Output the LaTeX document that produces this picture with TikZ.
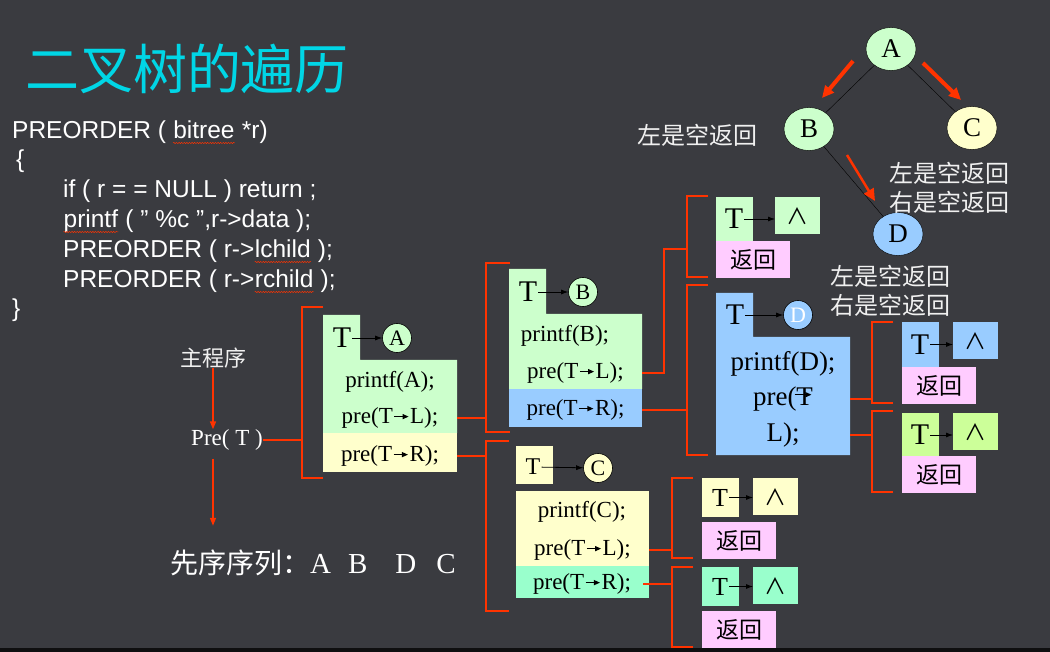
\documentclass[tikz,border=0pt]{standalone}
\usepackage{fontspec}
\usetikzlibrary{shapes.geometric,arrows.meta,decorations.pathmorphing}
\setmainfont{Liberation Serif}
\setsansfont{Liberation Sans}
\newfontfamily\cjk{Noto Sans CJK SC}
\definecolor{bgdark}{RGB}{58,59,64}
\definecolor{titlecyan}{RGB}{0,214,230}
\definecolor{pptred}{RGB}{255,51,0}
\definecolor{boxgreen}{RGB}{204,255,204}
\definecolor{boxyellow}{RGB}{255,255,204}
\definecolor{boxblue}{RGB}{153,204,255}
\definecolor{boxpink}{RGB}{255,204,255}
\definecolor{boxteal}{RGB}{153,255,204}
\definecolor{boxlime}{RGB}{204,255,153}
% red wavy underline of the spell checker
\newcommand{\spell}[1]{\tikz[baseline=(sw.base)]{\node[inner sep=0pt, text=white] (sw) {#1};
  \draw[pptred, line width=0.5pt, decorate, decoration={snake, amplitude=0.6pt, segment length=2.6pt}]
    ([yshift=-4pt]sw.base west) -- ([yshift=-4pt]sw.base east);}}
% short arrow inside pre(T->L)
\newcommand{\ra}{\kern1pt\tikz[baseline=-0.3em]\draw[line width=1.1pt, -{Triangle[length=6pt,width=5pt]}] (0pt,0pt) -- (0.62em,0pt);\kern1pt}

\begin{document}
\begin{tikzpicture}[x=1pt,y=-1pt,
  codetext/.style={anchor=base west, text=white, font=\sffamily\fontsize{24.5}{28}\selectfont, inner sep=0pt},
  note/.style={text=white!94!black, font=\cjk\fontsize{24}{29}\selectfont, inner sep=0pt},
  tnode/.style={ellipse, draw=black, minimum width=50pt, minimum height=43pt, inner sep=0pt, font=\fontsize{27}{27}\selectfont},
  visit/.style={pptred, line width=4pt, -{Triangle[length=12pt,width=11pt]}},
  callarrow/.style={pptred, line width=1.5pt, -{Triangle[length=8pt,width=6pt]}},
  redline/.style={pptred, line width=1.8pt},
  rowtext/.style={font=\fontsize{23}{23}\selectfont, inner sep=0pt},
  row/.style={rowtext, minimum width=#1},
  bigT/.style={font=\fontsize{30}{30}\selectfont, inner sep=1pt},
  ptr/.style={-{Latex[length=7pt,width=5pt]}, line width=0.8pt},
  ptrcircle/.style={circle, draw=black, line width=0.6pt, minimum size=29pt, inner sep=0pt, font=\fontsize{22}{22}\selectfont},
  nullbox/.style={minimum width=45pt, minimum height=37pt, inner sep=0pt, font=\cjk\fontsize{22}{22}\selectfont},
  retbox/.style={fill=boxpink, minimum width=74pt, minimum height=37pt, inner sep=0pt, font=\cjk\fontsize{23}{23}\selectfont}]

\useasboundingbox (0,0) rectangle (1050,652);
\fill[bgdark] (0,0) rectangle (1050,652);
\fill[black!75!bgdark] (0,648) rectangle (1050,652);

% title and code
\node[font=\cjk\fontsize{54}{54}\selectfont, text=titlecyan, inner sep=0pt] (title) at (187,69) {二叉树的遍历};
\node[codetext] (code1) at (12,139) {PREORDER ( \spell{bitree} *r)};
\node[codetext] (code2) at (16,168) {\{};
\node[codetext] (code3) at (63,198) {if ( r = = NULL ) return ;};
\node[codetext] (code4) at (63,228) {\spell{printf} ( " \%c ",r->data );};
\node[codetext] (code5) at (63,258) {PREORDER ( r->\spell{lchild} );};
\node[codetext] (code6) at (63,288) {PREORDER ( r->\spell{rchild} );};
\node[codetext] (code7) at (12,317) {\}};

% the tree
\node[tnode, fill=boxgreen] (tA) at (891,49) {A};
\node[tnode, fill=boxgreen] (tB) at (809,129) {B};
\node[tnode, fill=boxyellow] (tC) at (972,128) {C};
\node[tnode, fill=boxblue] (tD) at (898,234) {D};
\draw (tA) -- (tB);
\draw (tA) -- (tC);
\draw (tB) -- (tD);
\coordinate (vAB1) at (853,61);  \coordinate (vAB2) at (822,98);
\coordinate (vAC1) at (923,63);  \coordinate (vAC2) at (961,100);
\coordinate (vBD1) at (847,155); \coordinate (vBD2) at (875,201);
\draw[visit] (vAB1) -- (vAB2);
\draw[visit] (vAC1) -- (vAC2);
\draw[visit, line width=2.5pt] (vBD1) -- (vBD2);
\node[note] (noteB) at (697,135) {左是空返回};
\node[note, align=left] (noteC) at (949,188) {左是空返回\\右是空返回};
\node[note, align=left] (noteD) at (890,291) {左是空返回\\右是空返回};

% main program
\node[note, font=\cjk\fontsize{22}{22}\selectfont] (mainprog) at (213,358) {主程序};
\node[rowtext, text=white] (preT) at (227,440) {Pre( T )};
\node[anchor=west, text=white, inner sep=0pt, font=\fontsize{29}{29}\selectfont] (seq) at (170,563)
  {{\cjk\fontsize{28}{28}\selectfont 先序序列：}A\hspace{17pt}B\hspace{28pt}D\hspace{20pt}C};
\draw[callarrow] (mainprog) -- (mainprog |- preT.north);
\draw[callarrow, shorten <=8pt, shorten >=24pt] (mainprog |- preT.south) -- (mainprog |- seq.north);

% frames of the calls
\fill[boxgreen] (323,315) -- (360,315) -- (360,360) -- (457,360) -- (457,433) -- (323,433) -- cycle;
\fill[boxyellow] (323,433) rectangle (457,472);
\fill[boxgreen] (509,269) -- (546,269) -- (546,314) -- (642,314) -- (642,389) -- (509,389) -- cycle;
\fill[boxblue] (509,389) rectangle (642,427);
\fill[boxblue] (716,293) -- (753,293) -- (753,337) -- (850,337) -- (850,455) -- (716,455) -- cycle;
\fill[boxyellow] (516,446) rectangle (553,484);
\fill[boxyellow] (516,491) rectangle (649,566);
\fill[boxteal] (516,566) rectangle (649,598);

% brackets
\foreach \nm/\sx/\ty/\by/\tx in {A/302/307/478/323, B/486/263/432/510, C/486/441/611/509,
    BL/687/196/277/708, BR/687/285/455/708, CL/672/478/558/693, CR/672/567/647/693,
    DL/872/322/403/893, DR/872/411/492/893}
  \draw[redline] (\tx,\ty) -- (\sx,\ty) coordinate (sp\nm) -- (\sx,\by) -- (\tx,\by);

% call A
\node[bigT] (aT) at (342,338) {T};
\node[ptrcircle, fill=boxgreen] (aPtr) at (397,338) {A};
\draw[ptr] (aT) -- (aPtr);
\node[rowtext] (aP) at (390,382) {printf(A);};
\node[row=134] (aL) at (390,418) {pre(T\ra L);};
\node[row=134] (aR) at (390,456) {pre(T\ra R);};

% call B
\node[bigT] (bT) at (528,292) {T};
\node[ptrcircle, fill=boxgreen] (bPtr) at (583,292) {B};
\draw[ptr] (bT) -- (bPtr);
\node[rowtext] (bP) at (565,336) {printf(B);};
\node[row=133] (bL) at (575.5,373) {pre(T\ra L);};
\node[row=133] (bR) at (575.5,410) {pre(T\ra R);};

% call D
\node[bigT] (dT) at (735,315) {T};
\node[ptrcircle, fill=boxblue, text=white] (dPtr) at (798,315) {D};
\draw[ptr] (dT) -- (dPtr);
\node[rowtext, font=\fontsize{27}{27}\selectfont] (dP) at (783,364) {printf(D);};
\node[row=134, font=\fontsize{27}{27}\selectfont] (dL) at (783,399)
  {pre(T\llap{\raisebox{0.1em}{\ra}}};
\node[row=134, font=\fontsize{27}{27}\selectfont] (dR) at (783,435) {L);};

% call C
\node[bigT, font=\fontsize{24}{24}\selectfont] (cT) at (533,467) {T};
\node[ptrcircle, fill=boxyellow] (cPtr) at (598,468) {C};
\draw[ptr] (cT) -- (cPtr);
\node[rowtext] (cP) at (582,512) {printf(C);};
\node[row=133] (cL) at (582.5,550) {pre(T\ra L);};
\node[row=122] (cR) at (582,584) {pre(T\ra R);};

% red connectors
\draw[redline] (preT) -- (preT -| spA);
\draw[redline] (aL) -- (aL -| spB);
\draw[redline] (aR) -- (aR -| spC);
\coordinate (kB) at (664,249);
\draw[redline] (bL) -| (kB) -- (kB -| spBL);
\draw[redline] (bR) -- (bR -| spBR);
\draw[redline] (dL) -- (dL -| spDL);
\draw[redline] (dR) -- (dR -| spDR);
\draw[redline] (cL) -- (cL -| spCL);
\draw[redline] (cR) -- (cR -| spCR);

% empty subtrees
\foreach \nm/\x/\y/\col/\nx/\th/\ts/\gp in {BL/716/197/boxgreen/775/44/30/0, DL/902/322/boxblue/953/45/30/0,
    DR/902/413/boxlime/953/44/30/-1, CL/702/478/boxyellow/753/39/26/5, CR/702/567/boxteal/753/39/26/5} {
  \fill[\col] (\x,\y) rectangle ++(37,\th);
  \node[bigT, font=\fontsize{\ts}{\ts}\selectfont] (t\nm) at (\x+18,\y+\th/2) {T};
  \node[nullbox, fill=\col, anchor=north west] (n\nm) at (\nx,\y) {∧};
  \node[retbox, anchor=north west] (r\nm) at (\x,\y+\th+\gp) {返回};
  \draw[ptr] (t\nm) -- (t\nm -| n\nm.west);
}
\end{tikzpicture}
\end{document}
